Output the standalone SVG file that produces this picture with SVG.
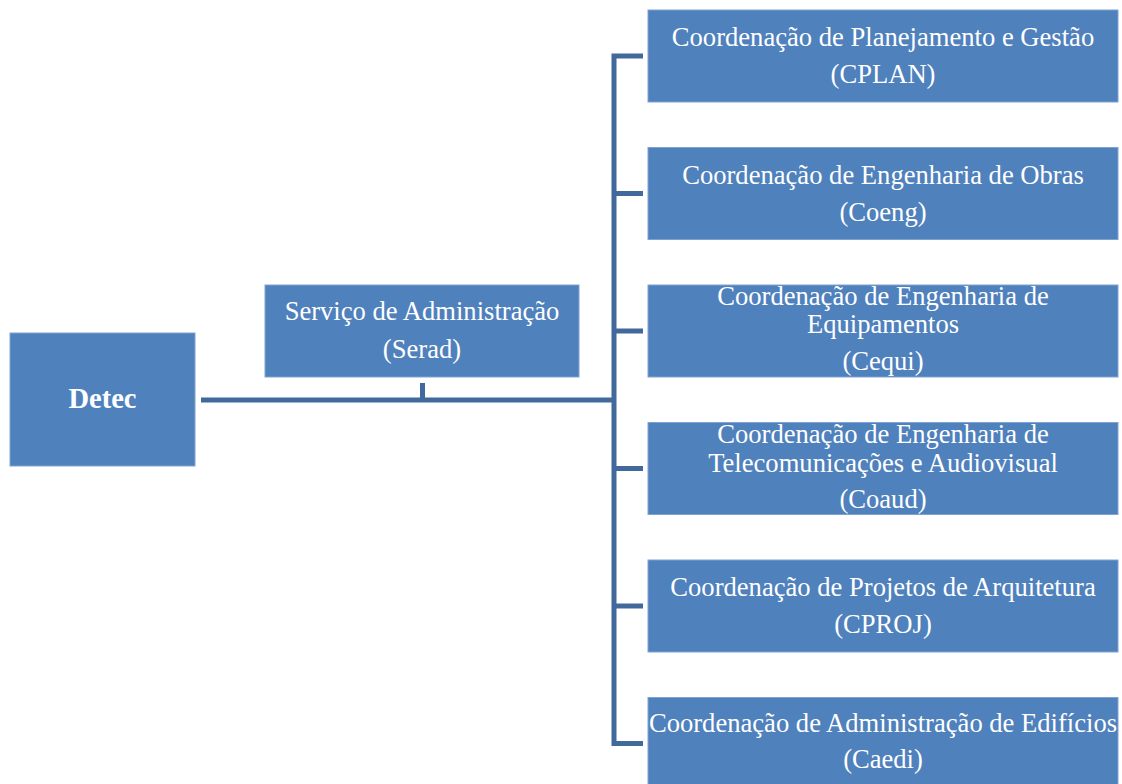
<svg xmlns="http://www.w3.org/2000/svg" width="1122" height="784" viewBox="0 0 1122 784">
  <style>
    .box { fill: #4F81BD; stroke: #7FA3D1; stroke-width: 1; }
    .lbl { font-family: "Liberation Serif", "Times New Roman", serif; font-size: 26.6px; fill: #FFFFFF; text-anchor: middle; }
    .bold { font-weight: bold; font-size: 28.5px; }
    .conn { fill: none; stroke: #41699B; stroke-width: 5; stroke-linecap: butt; stroke-linejoin: miter; }
  </style>
  <rect width="1122" height="784" fill="#FFFFFF"/>

  <!-- connectors -->
  <g id="connectors">
    <line class="conn" x1="201" y1="400" x2="614" y2="400"/>
    <line class="conn" x1="422.5" y1="383" x2="422.5" y2="400"/>
    <path class="conn" d="M643 56 H614 V743.5 H643"/>
    <line class="conn" x1="614" y1="193.5" x2="643" y2="193.5"/>
    <line class="conn" x1="614" y1="331" x2="643" y2="331"/>
    <line class="conn" x1="614" y1="468.5" x2="643" y2="468.5"/>
    <line class="conn" x1="614" y1="606" x2="643" y2="606"/>
  </g>

  <g id="detec">
    <rect class="box" x="10" y="333" width="185" height="133"/>
    <text class="lbl bold" x="102.5" y="408">Detec</text>
  </g>

  <g id="serad">
    <rect class="box" x="265" y="285" width="314" height="92"/>
    <text class="lbl" x="422" y="320">Serviço de Administração</text>
    <text class="lbl" x="422" y="358">(Serad)</text>
  </g>

  <g id="cplan">
    <rect class="box" x="648" y="10" width="470" height="92"/>
    <text class="lbl" x="883" y="46">Coordenação de Planejamento e Gestão</text>
    <text class="lbl" x="883" y="83">(CPLAN)</text>
  </g>

  <g id="coeng">
    <rect class="box" x="648" y="147.5" width="470" height="92"/>
    <text class="lbl" x="883" y="183.5">Coordenação de Engenharia de Obras</text>
    <text class="lbl" x="883" y="220.5">(Coeng)</text>
  </g>

  <g id="cequi">
    <rect class="box" x="648" y="285" width="470" height="92"/>
    <text class="lbl" x="883" y="305">Coordenação de Engenharia de</text>
    <text class="lbl" x="883" y="333">Equipamentos</text>
    <text class="lbl" x="883" y="370">(Cequi)</text>
  </g>

  <g id="coaud">
    <rect class="box" x="648" y="422.5" width="470" height="92"/>
    <text class="lbl" x="883" y="443">Coordenação de Engenharia de</text>
    <text class="lbl" x="883" y="471.5">Telecomunicações e Audiovisual</text>
    <text class="lbl" x="883" y="508">(Coaud)</text>
  </g>

  <g id="cproj">
    <rect class="box" x="648" y="560" width="470" height="92"/>
    <text class="lbl" x="883" y="596">Coordenação de Projetos de Arquitetura</text>
    <text class="lbl" x="883" y="633">(CPROJ)</text>
  </g>

  <g id="caedi">
    <rect class="box" x="648" y="697.5" width="470" height="92"/>
    <text class="lbl" x="883" y="731.5">Coordenação de Administração de Edifícios</text>
    <text class="lbl" x="883" y="768">(Caedi)</text>
  </g>
</svg>
